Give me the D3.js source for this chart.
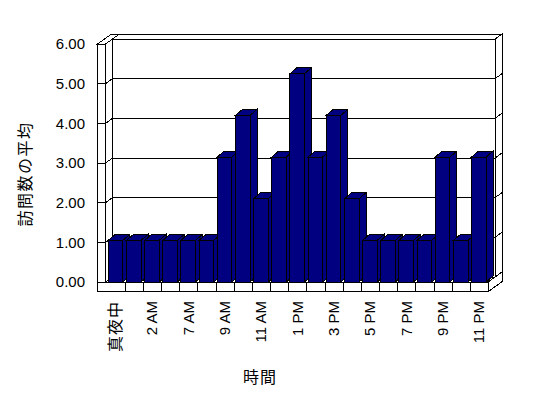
<!DOCTYPE html>
<html>
<head>
<meta charset="utf-8">
<script src="https://cdn.jsdelivr.net/npm/d3@7"></script>
<style>
    body { margin: 0; background: #fff; }
</style>
</head>
<body>
<div id="chart"></div>
<script>
// Data
const hours = ["真夜中", "1 AM", "2 AM", "6 AM", "7 AM", "8 AM", "9 AM", "10 AM", "11 AM", "12 PM",
    "1 PM", "2 PM", "3 PM", "4 PM", "5 PM", "6 PM", "7 PM", "8 PM", "9 PM", "10 PM", "11 PM"];
const visits = [1, 1, 1, 1, 1, 1, 3, 4, 2, 3, 5, 3, 4, 2, 1, 1, 1, 1, 3, 1, 3];
const yTicks = [0, 1, 2, 3, 4, 5, 6];
const xLabelEvery = 2;
const yTitle = "訪問数の平均";
const xTitle = "時間";

document.addEventListener("DOMContentLoaded", function () {
    const width = 548;
    const height = 398;

    const latinFont = "'Liberation Sans', Arial, sans-serif";
    const cjkFont = "'Noto Sans CJK JP', sans-serif";
    const isCjk = s => /[\u3000-\u9fff]/.test(s);

    // depth of the walls (one layer) and of the bars
    const dz = { x: 7, y: -5 };
    const bz = { x: 7, y: -6 };

    const wallLeft = 97.5;   // front edge of left wall
    const wallInner = 105.5; // inner face of left wall

    const svg = d3.select("#chart")
        .append("svg")
        .attr("width", width)
        .attr("height", height)
        .style("display", "block");

    // front plane scales
    const x = d3.scaleBand()
        .domain(hours)
        .range([106.5, 488])
        .padding(0);

    const y = d3.scaleLinear()
        .domain([0, 6])
        .range([282, 44]);

    // bars are drawn a bit larger (perspective)
    const yBar = d3.scaleLinear()
        .domain([0, 6])
        .range([282, 32]);

    const xRight = x.range()[1];
    const y0 = y(0);
    const yTop = y(6);
    const floorBottom = 291.7;

    const pts = arr => arr.map(p => p.join(",")).join(" ");
    const walls = svg.append("g")
        .attr("fill", "#fff")
        .attr("stroke", "#000")
        .attr("stroke-width", 1)
        .attr("shape-rendering", "crispEdges");

    // back wall top
    walls.append("polygon").attr("points", pts([
        [wallInner + dz.x, yTop + dz.y], [xRight + dz.x, yTop + dz.y],
        [xRight + 2 * dz.x, yTop + 2 * dz.y], [wallInner + 2 * dz.x, yTop + 2 * dz.y]
    ]));
    // back wall inner face
    walls.append("rect")
        .attr("x", wallInner + dz.x)
        .attr("y", yTop + dz.y)
        .attr("width", xRight - wallInner)
        .attr("height", y0 - yTop);
    // back wall right end
    walls.append("polygon").attr("points", pts([
        [xRight + dz.x, yTop + dz.y], [xRight + 2 * dz.x, yTop + 2 * dz.y],
        [xRight + 2 * dz.x, y0 + 2 * dz.y], [xRight + dz.x, y0 + dz.y]
    ]));
    // left wall inner face
    walls.append("polygon").attr("points", pts([
        [wallInner, yTop], [wallInner + dz.x, yTop + dz.y],
        [wallInner + dz.x, y0 + dz.y], [wallInner, y0]
    ]));
    // left wall top
    walls.append("polygon").attr("points", pts([
        [wallLeft, yTop], [wallInner, yTop],
        [wallInner + 2 * dz.x, yTop + 2 * dz.y], [wallLeft + 2 * dz.x, yTop + 2 * dz.y]
    ]));
    // floor top
    walls.append("polygon").attr("points", pts([
        [wallInner, y0], [xRight, y0], [xRight + dz.x, y0 + dz.y], [wallInner + dz.x, y0 + dz.y]
    ]));
    // floor right side
    walls.append("polygon").attr("points", pts([
        [xRight, y0], [xRight + 2 * dz.x, y0 + 2 * dz.y],
        [xRight + 2 * dz.x, floorBottom + 2 * dz.y], [xRight, floorBottom]
    ]));
    // floor front
    walls.append("rect")
        .attr("x", wallLeft)
        .attr("y", y0)
        .attr("width", xRight - wallLeft)
        .attr("height", floorBottom - y0);
    // left wall front
    walls.append("rect")
        .attr("x", wallLeft)
        .attr("y", yTop)
        .attr("width", wallInner - wallLeft)
        .attr("height", y0 - yTop);

    // gridlines: front tick -> side wall -> back wall -> right end
    svg.append("g")
        .attr("fill", "none")
        .attr("stroke", "#000")
        .attr("shape-rendering", "crispEdges")
        .selectAll("polyline")
        .data(yTicks.filter(v => v > 0 && v < 6))
        .join("polyline")
        .attr("points", v => pts([
            [wallLeft, y(v)], [wallInner, y(v)],
            [wallInner + dz.x, y(v) + dz.y], [xRight + dz.x, y(v) + dz.y],
            [xRight + 2 * dz.x, y(v) + 2 * dz.y]
        ]));

    // category ticks on the floor front
    svg.append("g")
        .attr("stroke", "#000")
        .attr("shape-rendering", "crispEdges")
        .selectAll("line")
        .data(hours.slice(1))
        .join("line")
        .attr("x1", d => Math.round(x(d)) + 0.5)
        .attr("x2", d => Math.round(x(d)) + 0.5)
        .attr("y1", y0)
        .attr("y2", floorBottom);

    // bars (left to right so the next front covers the previous side)
    const bw = x.bandwidth();
    const bars = svg.append("g")
        .attr("fill", "#000080")
        .attr("stroke", "#000")
        .attr("stroke-width", 1)
        .attr("shape-rendering", "crispEdges")
        .selectAll("g")
        .data(hours.map((h, i) => ({ hour: h, value: visits[i] })))
        .join("g");

    bars.each(function (d) {
        const g = d3.select(this);
        const x0 = x(d.hour) + bw * 0.1;
        const x1 = x0 + bw * 0.8;
        const t = yBar(d.value);
        const b = yBar(0);
        g.append("polygon").attr("points", pts([
            [x1, t], [x1 + bz.x, t + bz.y], [x1 + bz.x, b + bz.y], [x1, b]
        ]));
        g.append("polygon").attr("points", pts([
            [x0, t], [x1, t], [x1 + bz.x, t + bz.y], [x0 + bz.x, t + bz.y]
        ]));
        g.append("rect")
            .attr("x", x0)
            .attr("y", t)
            .attr("width", x1 - x0)
            .attr("height", b - t);
    });

    // Y axis labels
    svg.append("g")
        .selectAll("text")
        .data(yTicks)
        .join("text")
        .attr("x", 85)
        .attr("y", d => y(d))
        .attr("dy", "0.35em")
        .attr("text-anchor", "end")
        .attr("font-family", latinFont)
        .attr("font-size", 15)
        .attr("fill", "#000")
        .text(d3.format(".2f"));

    // X axis labels (every other hour, rotated)
    svg.append("g")
        .selectAll("text")
        .data(hours.filter((h, i) => i % xLabelEvery === 0))
        .join("text")
        .attr("transform", d => `translate(${x(d) + bw / 2},301) rotate(-90)`)
        .attr("dy", "0.35em")
        .attr("text-anchor", "end")
        .attr("font-family", d => isCjk(d) ? cjkFont : latinFont)
        .attr("font-size", d => isCjk(d) ? 16 : 15)
        .attr("letter-spacing", d => isCjk(d) ? 1 : 0)
        .attr("fill", "#000")
        .text(d => d);

    // axis titles
    svg.append("text")
        .attr("transform", "translate(25,174) rotate(-90)")
        .attr("dy", "0.35em")
        .attr("text-anchor", "middle")
        .attr("font-family", cjkFont)
        .attr("font-size", 16)
        .attr("letter-spacing", 1.5)
        .text(yTitle);

    svg.append("text")
        .attr("x", 260)
        .attr("y", 377)
        .attr("dy", "0.35em")
        .attr("text-anchor", "middle")
        .attr("font-family", cjkFont)
        .attr("font-size", 16)
        .attr("letter-spacing", 1)
        .text(xTitle);
});
</script>
</body>
</html>
